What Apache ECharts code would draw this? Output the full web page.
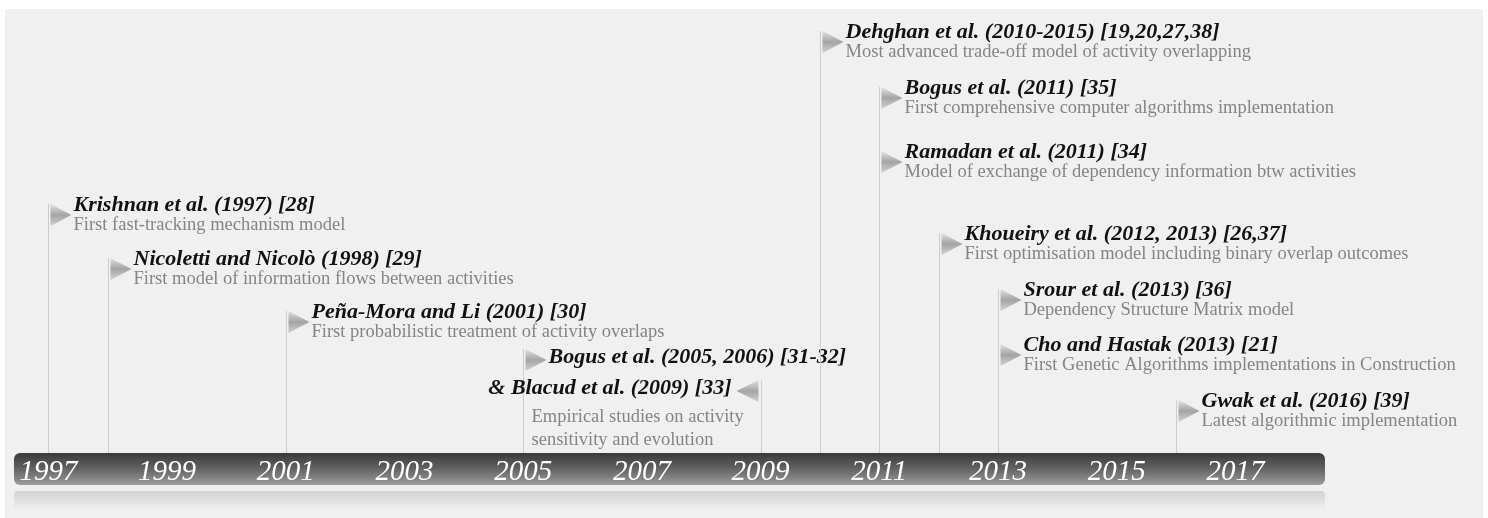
<!DOCTYPE html>
<html>
<head>
<meta charset="utf-8">
<title>Activity overlapping timeline</title>
<script src="https://cdn.jsdelivr.net/npm/echarts@6/dist/echarts.min.js"></script>
<style>
  html, body { margin: 0; padding: 0; background: #ffffff; }
  #main { width: 1488px; height: 518px; }
</style>
</head>
<body>
<div id="main"></div>
<script>
// tick labels on the timeline bar
var yearTicks = [1997, 1999, 2001, 2003, 2005, 2007, 2009, 2011, 2013, 2015, 2017];

// events: year of the flag, height of the flag above the bar (0-100), title, note
var eventYears = [1997, 1998, 2001, 2005, 2009, 2010, 2011, 2011, 2012, 2013, 2013, 2016];
var eventLevels = [56, 44, 32, 23.5, 16.5, 95, 82.5, 68, 49.5, 37, 24.5, 12];
var eventTitles = [
  "Krishnan et al. (1997) [28]",
  "Nicoletti and Nicolò (1998) [29]",
  "Peña-Mora and Li (2001) [30]",
  "Bogus et al. (2005, 2006) [31-32]",
  "& Blacud et al. (2009) [33]",
  "Dehghan et al. (2010-2015) [19,20,27,38]",
  "Bogus et al. (2011) [35]",
  "Ramadan et al. (2011) [34]",
  "Khoueiry et al. (2012, 2013) [26,37]",
  "Srour et al. (2013) [36]",
  "Cho and Hastak (2013) [21]",
  "Gwak et al. (2016) [39]"
];
var eventNotes = [
  "First fast-tracking mechanism model",
  "First model of information flows between activities",
  "First probabilistic treatment of activity overlaps",
  "Empirical studies on activity\nsensitivity and evolution",
  "",
  "Most advanced trade-off model of activity overlapping",
  "First comprehensive computer algorithms implementation",
  "Model of exchange of dependency information btw activities",
  "First optimisation model including binary overlap outcomes",
  "Dependency Structure Matrix model",
  "First Genetic Algorithms implementations in Construction",
  "Latest algorithmic implementation"
];

// layout tweaks: the 2005 / 2009 pair share one note, titles sit beside the flag
var inlineTitle = { 3: "right", 4: "left" };

var serif = "'Liberation Serif', 'Times New Roman', serif";
var flagFill = new echarts.graphic.LinearGradient(0, 0, 0, 1, [
  { offset: 0, color: "#e2e2e2" },
  { offset: 0.5, color: "#a4a4a4" },
  { offset: 1, color: "#d2d2d2" }
]);

var chart = echarts.init(document.getElementById("main"));

function renderEvent(params, api) {
  var i = api.value(2);
  var top = api.coord([api.value(0), api.value(1)]);
  var base = api.coord([api.value(0), 0]);
  var x = Math.round(top[0]) + 0.5;
  var y = Math.round(top[1]);
  var side = inlineTitle[i];
  var children = [
    {
      type: "line",
      shape: { x1: x, y1: y, x2: x, y2: base[1] },
      style: { stroke: "#cdcdcd", lineWidth: 1 }
    }
  ];
  if (side === "left") {
    children.push({
      type: "polygon",
      shape: { points: [[x - 3, y], [x - 3, y + 22], [x - 25, y + 11]] },
      style: { fill: flagFill }
    });
    children.push({
      type: "text",
      style: {
        x: x - 30, y: y + 8, text: eventTitles[i],
        align: "right", verticalAlign: "middle",
        font: "italic bold 22px " + serif, fill: "#111111"
      }
    });
  } else {
    children.push({
      type: "polygon",
      shape: { points: [[x + 2, y], [x + 2, y + 22], [x + 23, y + 11]] },
      style: { fill: flagFill }
    });
    children.push({
      type: "text",
      style: {
        x: x + 25, y: side ? y + 8 : y + 1, text: eventTitles[i],
        align: "left", verticalAlign: "middle",
        font: "italic bold 22px " + serif, fill: "#111111"
      }
    });
  }
  if (eventNotes[i]) {
    children.push({
      type: "text",
      style: {
        x: side ? x + 8 : x + 25, y: side ? y + 57 : y + 10, text: eventNotes[i],
        align: "left", verticalAlign: "top", lineHeight: 23,
        font: "18.5px " + serif, fill: "#858585"
      }
    });
  }
  return { type: "group", children: children };
}

var eventData = eventYears.map(function (yr, i) {
  return [yr, eventLevels[i], i];
});

chart.setOption({
  animation: false,
  backgroundColor: "#ffffff",
  graphic: [
    { type: "rect", z: 0, shape: { x: 5, y: 9, width: 1478, height: 509 }, style: { fill: "#f0f0f0" } },
    {
      type: "rect", z: 1,
      shape: { x: 14, y: 491, width: 1311, height: 20, r: [4, 4, 0, 0] },
      style: {
        fill: new echarts.graphic.LinearGradient(0, 0, 0, 1, [
          { offset: 0, color: "#d2d2d2" },
          { offset: 1, color: "#f0f0f0" }
        ])
      }
    },
    {
      type: "rect", z: 1,
      shape: { x: 14, y: 453, width: 1311, height: 32, r: 6 },
      style: {
        fill: new echarts.graphic.LinearGradient(0, 0, 0, 1, [
          { offset: 0, color: "#3a3a3a" },
          { offset: 0.45, color: "#5f5f5f" },
          { offset: 1, color: "#9c9c9c" }
        ])
      }
    }
  ],
  grid: { left: 14, right: 163, top: 9, bottom: 65 },
  xAxis: {
    type: "value",
    min: 1996.42,
    max: 2018.51,
    z: 5,
    axisLine: { show: false },
    axisTick: { show: false },
    splitLine: { show: false },
    axisLabel: {
      customValues: yearTicks,
      formatter: function (v) { return String(v); },
      margin: 5,
      color: "#ffffff",
      fontSize: 29,
      fontStyle: "italic",
      fontFamily: serif
    }
  },
  yAxis: { type: "value", min: 0, max: 100, show: false },
  series: [
    {
      type: "custom",
      renderItem: renderEvent,
      data: eventData,
      encode: { x: 0, y: 1 },
      clip: false
    }
  ]
});
</script>
</body>
</html>
